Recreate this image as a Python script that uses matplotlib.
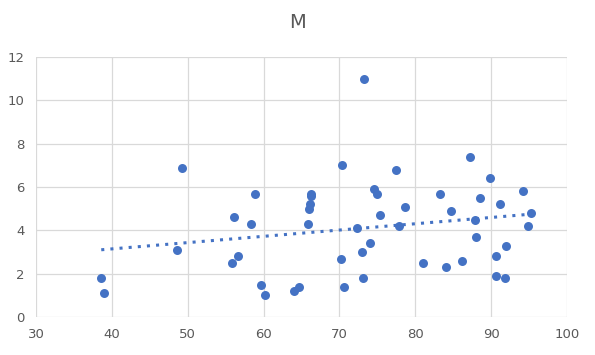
import numpy as np
import matplotlib.pyplot as plt

x_vals = [38.6, 38.9, 48.6, 49.2, 55.8, 56.1, 56.6, 58.3, 58.9, 59.7,
          60.2, 64.0, 64.7, 65.9, 66.0, 66.1, 66.2, 66.3, 70.2, 70.4,
          70.6, 72.3, 73.0, 73.1, 73.2, 74.0, 74.5, 75.0, 75.4, 77.4,
          77.8, 78.6, 81.0, 83.2, 84.0, 84.7, 86.1, 87.2, 87.9, 88.0,
          88.5, 89.8, 90.6, 90.6, 91.2, 91.8, 92.0, 94.2, 94.8, 95.2]
y_vals = [1.8, 1.1, 3.1, 6.9, 2.5, 4.6, 2.8, 4.3, 5.7, 1.5,
          1.0, 1.2, 1.4, 4.3, 5.0, 5.2, 5.7, 5.6, 2.7, 7.0,
          1.4, 4.1, 3.0, 1.8, 11.0, 3.4, 5.9, 5.7, 4.7, 6.8,
          4.2, 5.1, 2.5, 5.7, 2.3, 4.9, 2.6, 7.4, 4.5, 3.7,
          5.5, 6.4, 2.8, 1.9, 5.2, 1.8, 3.3, 5.8, 4.2, 4.8]
x_ticks = [30, 40, 50, 60, 70, 80, 90, 100]
y_ticks = [0, 2, 4, 6, 8, 10, 12]

blue = "#4472C4"
grey = "#595959"

fig = plt.figure(figsize=(5.95, 3.55), dpi=100)
ax = fig.add_axes([36 / 595, 38 / 355, 531 / 595, 260 / 355])

ax.scatter(x_vals, y_vals, s=42, color=blue, zorder=3, linewidths=0)

# linear trendline
slope, intercept = np.polyfit(x_vals, y_vals, 1)
tx = np.array([min(x_vals), max(x_vals)])
ax.plot(tx, slope * tx + intercept, color=blue, linestyle=(0, (1, 2)),
        linewidth=2.2, zorder=2)

ax.set_xlim(30, 100)
ax.set_ylim(0, 12)
ax.set_xticks(x_ticks)
ax.set_yticks(y_ticks)
ax.grid(True, color="#D9D9D9", linewidth=0.9, zorder=0)
for s in ax.spines.values():
    s.set_visible(False)
ax.tick_params(length=0, colors=grey, labelsize=9.5, pad=8)

fig.text(0.5, 0.938, "M", ha="center", va="center", fontsize=14, color=grey)

fig.savefig("out.png", dpi=100)
